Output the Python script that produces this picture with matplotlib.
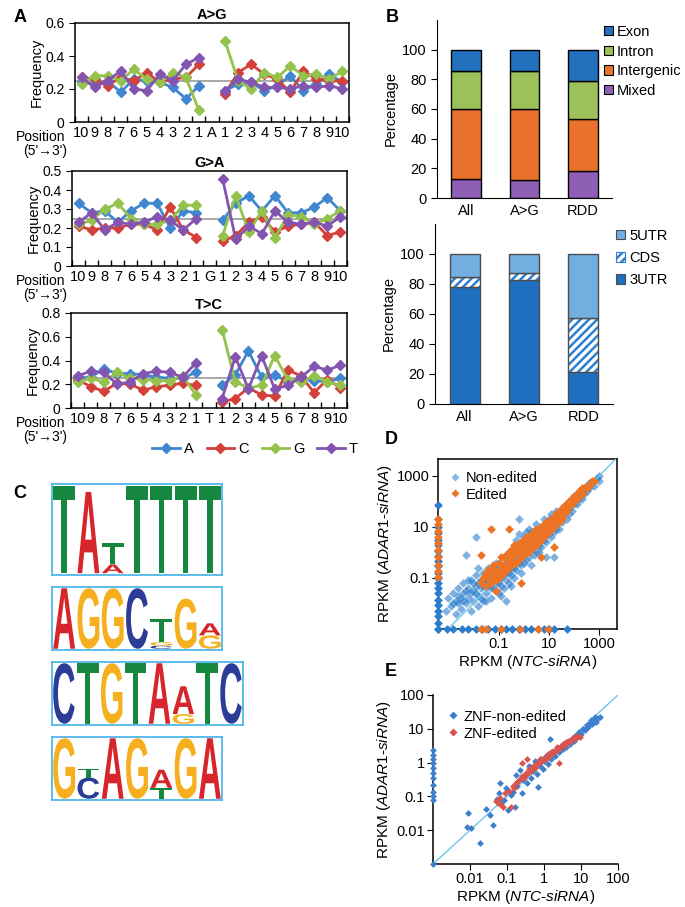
import numpy as np
import matplotlib
matplotlib.use('Agg')
import matplotlib.pyplot as plt
from matplotlib.lines import Line2D
from matplotlib.patches import Patch, PathPatch
from matplotlib.textpath import TextPath
from matplotlib.font_manager import FontProperties
from matplotlib.transforms import Affine2D

plt.rcParams['font.family'] = ['Liberation Sans', 'DejaVu Sans']
plt.rcParams['mathtext.fontset'] = 'custom'
plt.rcParams['mathtext.rm'] = 'Liberation Sans'
plt.rcParams['mathtext.it'] = 'Liberation Sans:italic'
plt.rcParams['font.size'] = 10
plt.rcParams['hatch.linewidth'] = 1.8

# ---------------- data: panel A (frequency around the edited base) ----------------
bases = ['A', 'C', 'G', 'T']
pos_left = ['10', '9', '8', '7', '6', '5', '4', '3', '2', '1']
pos_right = ['1', '2', '3', '4', '5', '6', '7', '8', '9', '10']

ag_A = [0.24, 0.23, 0.25, 0.18, 0.26, 0.25, 0.24, 0.21, 0.14, 0.22, 0.19, 0.23, 0.24, 0.19, 0.22, 0.28, 0.19, 0.23, 0.29, 0.24]
ag_C = [0.27, 0.26, 0.22, 0.27, 0.25, 0.30, 0.24, 0.26, 0.27, 0.35, 0.17, 0.30, 0.35, 0.29, 0.26, 0.18, 0.31, 0.26, 0.25, 0.25]
ag_G = [0.23, 0.28, 0.28, 0.25, 0.32, 0.26, 0.24, 0.30, 0.27, 0.07, 0.49, 0.25, 0.20, 0.30, 0.27, 0.34, 0.28, 0.29, 0.26, 0.31]
ag_T = [0.27, 0.21, 0.25, 0.31, 0.20, 0.19, 0.29, 0.25, 0.35, 0.39, 0.19, 0.26, 0.24, 0.21, 0.21, 0.20, 0.22, 0.21, 0.22, 0.20]

ga_A = [0.33, 0.28, 0.29, 0.23, 0.29, 0.33, 0.33, 0.20, 0.29, 0.28, 0.24, 0.33, 0.37, 0.29, 0.37, 0.28, 0.28, 0.31, 0.36, 0.29]
ga_C = [0.21, 0.19, 0.20, 0.20, 0.22, 0.22, 0.19, 0.31, 0.19, 0.15, 0.13, 0.16, 0.23, 0.26, 0.18, 0.21, 0.22, 0.23, 0.16, 0.18]
ga_G = [0.22, 0.24, 0.30, 0.33, 0.25, 0.22, 0.22, 0.24, 0.32, 0.32, 0.16, 0.37, 0.18, 0.29, 0.15, 0.27, 0.26, 0.22, 0.25, 0.29]
ga_T = [0.23, 0.28, 0.19, 0.23, 0.22, 0.23, 0.26, 0.24, 0.19, 0.25, 0.46, 0.14, 0.21, 0.17, 0.29, 0.23, 0.22, 0.23, 0.21, 0.26]

tc_A = [0.25, 0.26, 0.33, 0.29, 0.29, 0.28, 0.26, 0.25, 0.25, 0.30, 0.19, 0.28, 0.48, 0.26, 0.28, 0.22, 0.25, 0.23, 0.22, 0.25]
tc_C = [0.24, 0.18, 0.14, 0.21, 0.20, 0.15, 0.18, 0.19, 0.21, 0.19, 0.05, 0.08, 0.17, 0.11, 0.10, 0.32, 0.27, 0.13, 0.24, 0.17]
tc_G = [0.22, 0.25, 0.22, 0.30, 0.25, 0.24, 0.23, 0.23, 0.27, 0.11, 0.66, 0.22, 0.17, 0.19, 0.44, 0.24, 0.22, 0.27, 0.22, 0.19]
tc_T = [0.27, 0.31, 0.30, 0.20, 0.22, 0.29, 0.31, 0.30, 0.26, 0.38, 0.08, 0.43, 0.16, 0.44, 0.16, 0.19, 0.26, 0.35, 0.32, 0.36]

# ---------------- data: panel B (stacked percentages) ----------------
groups = ['All', 'A>G', 'RDD']
region_mixed = [12.6, 12.2, 18.3]
region_intergenic = [47.2, 48.1, 35.0]
region_intron = [25.5, 25.5, 25.5]
region_exon = [14.7, 14.2, 21.2]

gene_3utr = [77.8, 82.9, 21.6]
gene_cds = [7.1, 4.7, 35.5]
gene_5utr = [15.1, 12.4, 42.9]

# ---------------- data: panel C (motif logos, columns bottom->top: letter, height) ----------------
logo_1 = [[('T', 1.0)], [('A', 0.93)], [('A', 0.1), ('T', 0.24)], [('T', 1.0)],
          [('T', 1.0)], [('T', 1.0)], [('T', 1.0)]]
logo_2 = [[('A', 1.0)], [('G', 1.0)], [('G', 1.0)], [('C', 1.0)],
          [('C', 0.05), ('G', 0.06), ('T', 0.39)], [('G', 0.83)], [('G', 0.22), ('A', 0.2)]]
logo_3 = [[('C', 1.0)], [('T', 1.0)], [('G', 1.0)], [('T', 1.0)], [('A', 1.0)],
          [('G', 0.16), ('A', 0.46)], [('T', 1.0)], [('C', 1.0)]]
logo_4 = [[('G', 1.0)], [('C', 0.35), ('T', 0.15)], [('A', 1.0)], [('G', 1.0)],
          [('T', 0.18), ('A', 0.3)], [('G', 1.0)], [('A', 1.0)]]

# ---------------- data: panel D (log10 RPKM, NTC vs ADAR1 siRNA) ----------------
d_nonedited_log = [
    (-3.1, -2.3), (-3.0, -1.8), (-2.9, -2.1), (-2.8, -1.6), (-2.7, -1.9), (-2.7, -2.4), (-2.6, -1.4),
    (-2.5, -1.8), (-2.5, -2.2), (-2.4, -1.2), (-2.4, -1.6), (-2.3, -2.0), (-2.3, -0.1), (-2.2, -1.4),
    (-2.2, -1.8), (-2.1, -1.1), (-2.1, -2.3), (-2.0, -1.5), (-2.0, -1.9), (-1.9, -0.9), (-1.9, 0.6),
    (-1.9, -1.3), (-1.8, -1.7), (-1.8, -2.1), (-1.7, -1.1), (-1.7, -1.4), (-1.6, -0.8), (-1.6, -1.9),
    (-1.5, -1.2), (-1.5, -1.6), (-1.4, -0.6), (-1.4, -1.0), (-1.3, -1.4), (-1.3, -1.8), (-1.2, -0.8),
    (-1.2, -1.1), (-1.1, -0.4), (-1.1, -1.5), (-1.0, -0.9), (-1.0, -1.2), (-0.9, -0.5), (-0.9, -1.7),
    (-0.8, -0.8), (-0.8, -0.2), (-0.7, -1.1), (-0.7, -1.9), (-0.6, -0.5), (-0.6, 0.0), (-0.5, -0.9),
    (-0.5, -0.3), (-0.4, 0.2), (-0.4, -0.6), (-0.3, -0.1), (-0.3, 0.5), (-0.2, 1.3), (-0.2, -0.4),
    (-0.1, 0.3), (-0.1, -0.8), (0.0, 0.0), (0.0, 0.6), (0.1, -0.3), (0.1, 0.4), (0.2, 0.9), (0.2, 0.1),
    (0.3, -0.5), (0.3, 0.5), (0.4, 0.2), (0.4, 0.8), (0.5, 1.1), (0.5, 0.0), (0.6, 0.6), (0.6, 0.3),
    (0.7, 1.0), (0.7, 0.2), (0.8, 0.8), (0.8, 1.3), (0.9, 0.4), (0.9, -0.2), (1.0, 1.0), (1.0, 0.7),
    (1.1, 1.5), (1.1, 0.6), (1.2, 1.2), (1.2, -0.2), (1.3, 0.9), (1.3, 1.6), (1.4, 1.3), (1.4, 0.9),
    (1.5, 1.7), (1.5, 1.2), (1.6, 1.5), (1.7, 1.9), (1.7, 1.3), (1.8, 1.7), (1.9, 2.1), (1.9, 1.6),
    (2.0, 1.9), (2.1, 2.3), (2.1, 1.9), (2.2, 2.1), (2.3, 2.4), (2.3, 2.1), (2.4, 2.3), (2.5, 2.6),
    (2.5, 2.4), (2.6, 2.5), (2.7, 2.7), (2.8, 2.8), (2.8, 2.6), (2.9, 2.9), (3.0, 3.0), (3.0, 2.8),
    (-2.8, -2.0), (-2.6, -2.0), (-2.6, -1.7), (-2.4, -1.9), (-2.3, -1.5), (-2.2, -1.1), (-2.1, -1.6),
    (-2.0, -1.2), (-1.9, -1.6), (-1.8, -1.2), (-1.8, -0.6), (-1.7, -1.8), (-1.6, -1.3), (-1.6, -1.1),
    (-1.5, -1.9), (-1.5, -1.0), (-1.4, -1.3), (-1.3, -1.1), (-1.3, -0.7), (-1.2, -1.4), (-1.1, -1.2),
    (-1.1, -0.7), (-1.0, -0.6), (-1.0, -1.6), (-0.9, -1.0), (-0.9, -1.3), (-0.8, -1.4), (-0.8, -0.5),
    (-0.7, -0.8), (-0.7, -0.3), (-0.6, -1.2), (-0.6, -0.8), (-0.5, -1.3), (-0.5, -0.6), (-0.4, -0.3),
    (-0.4, -1.0), (-0.3, -0.7), (-0.3, 0.1), (-0.2, 0.0), (-0.2, 0.7), (-0.1, -0.5), (-0.1, 0.0),
    (0.0, 0.3), (0.0, -0.4), (0.1, 0.1), (0.1, 0.8), (0.2, -0.2), (0.2, 0.5), (0.3, 0.2), (0.3, 0.8),
    (0.4, 0.5), (0.4, -0.1), (0.5, 0.6), (0.6, 0.9), (0.6, 0.0), (0.7, 0.7), (0.8, 0.5), (0.9, 0.9),
    (1.0, 1.3), (1.1, 1.0), (1.2, 0.8), (1.3, 1.3), (1.6, 1.8), (1.8, 1.5), (2.0, 2.2), (2.2, 2.3),
    (2.4, 2.5), (2.6, 2.7),
]
d_edited_log = [
    (-1.7, -1.2), (-1.6, -1.0), (-1.5, -1.3), (-1.5, -0.8), (-1.4, -1.0), (-1.3, -0.7), (-1.3, -1.2),
    (-1.2, -0.9), (-1.2, -0.5), (-1.1, -0.8), (-1.0, -0.4), (-1.0, -1.0), (-0.9, -0.6), (-0.9, -0.2),
    (-0.8, -0.5), (-0.7, -0.1), (-0.7, -0.7), (-0.6, -0.3), (-0.5, 0.1), (-0.5, -0.5), (-0.4, -0.1),
    (-0.3, 0.3), (-0.3, -0.4), (-0.2, 0.0), (-0.1, 0.4), (-0.1, -0.2), (0.0, 0.2), (0.1, 0.6), (0.1, 0.0),
    (0.2, 0.3), (0.3, 0.7), (0.3, 0.2), (0.4, 0.5), (0.5, 0.9), (0.5, 0.3), (0.6, 0.6), (0.7, 1.0),
    (0.7, 0.5), (0.8, 0.8), (0.9, 1.2), (0.9, 0.7), (1.0, 1.0), (1.1, 1.3), (1.1, 0.9), (1.2, 1.2),
    (1.3, 1.5), (1.3, 1.1), (1.4, 1.4), (1.5, 1.7), (1.5, 1.3), (1.6, 1.6), (1.7, 1.9), (1.7, 1.6),
    (1.8, 1.8), (1.9, 2.1), (2.0, 2.0), (2.1, 2.2), (2.2, 2.4), (2.3, 2.3), (2.4, 2.5), (2.5, 2.6),
    (2.6, 2.6), (2.7, 2.8), (2.8, 2.8), (-1.3, 0.9), (-1.7, -0.1), (-0.1, -1.2), (-1.1, -1.5),
    (0.7, -0.2), (-0.6, 0.9), (1.2, 0.2),
    (-1.4, -0.7), (-1.2, -0.7), (-1.1, -1.1), (-1.0, -0.7), (-0.9, -0.9), (-0.8, -0.2), (-0.8, -0.8),
    (-0.7, -0.4), (-0.6, -0.6), (-0.6, 0.0), (-0.5, -0.2), (-0.4, 0.3), (-0.4, -0.4), (-0.3, 0.0),
    (-0.2, 0.3), (-0.2, -0.3), (-0.1, 0.1), (0.0, 0.5), (0.0, -0.1), (0.1, 0.3), (0.2, 0.6), (0.2, 0.0),
    (0.3, 0.4), (0.4, 0.8), (0.4, 0.2), (0.5, 0.6), (0.6, 0.9), (0.6, 0.4), (0.7, 0.7), (0.8, 1.1),
    (0.8, 0.6), (0.9, 0.9), (1.0, 1.2), (1.0, 0.8), (1.1, 1.1), (1.2, 1.4), (1.2, 1.0), (1.3, 1.3),
    (1.4, 1.6), (1.4, 1.2), (1.5, 1.5), (1.6, 1.8), (1.6, 1.5), (1.7, 1.7), (1.8, 2.0), (1.9, 1.9),
    (2.0, 2.2), (2.1, 2.1), (2.2, 2.2), (2.3, 2.5), (2.5, 2.5),
]
# genes with RPKM = 0 in one condition (drawn on the axis)
d_nonedited_x0_logy = [-3.0, -2.75, -2.5, -2.3, -2.05, -1.85, -1.6, -1.4, -1.2, -1.0, -0.8, -0.55,
                       -0.35, -0.15, 0.05, 0.3, 0.5, 0.75, 1.0, 1.3, 1.85]
d_nonedited_y0_logx = [-3.4, -3.05, -2.8, -2.45, -2.2, -1.9, -1.65, -1.4, -1.15, -0.9, -0.7, -0.45,
                       -0.2, 0.05, 0.3, 0.55, 0.8, 1.0, 1.2, 1.7]
d_edited_x0_logy = [1.3, 1.1, 0.85, 0.6, 0.35, 0.1, -0.2, -0.5, -0.75, -0.95]
d_edited_y0_logx = [-1.7, -1.5, -0.9, -0.15, 0.55, 0.95]

# ---------------- data: panel E (ZNF genes, log10 RPKM) ----------------
e_nonedited_log = [
    (-2.07, -1.9), (-2.05, -1.5), (-1.96, -1.94), (-1.74, -2.37), (-1.58, -1.38), (-1.47, -1.55),
    (-1.38, -1.84), (-1.27, -1.09), (-1.22, -0.89), (-1.2, -0.61), (-1.15, -1.2), (-1.09, -1.11),
    (-1.02, -0.75), (-0.97, -1.4), (-0.9, -0.95), (-0.84, -0.86), (-0.79, -1.3), (-0.77, -0.37),
    (-0.72, -0.7), (-0.66, -0.22), (-0.6, -0.9), (-0.57, -0.51), (-0.5, -0.35), (-0.45, -0.6),
    (-0.4, -0.1), (-0.35, -0.45), (-0.3, -0.25), (-0.25, 0.05), (-0.2, -0.35), (-0.16, -0.71),
    (-0.12, -0.1), (-0.08, 0.12), (-0.03, -0.2), (0.0, 0.05), (0.05, 0.2), (0.1, -0.05), (0.14, 0.25),
    (0.17, 0.7), (0.2, 0.1), (0.25, 0.3), (0.3, 0.2), (0.35, 0.4), (0.4, 0.3), (0.45, 0.5), (0.5, 0.4),
    (0.55, 0.55), (0.6, 0.45), (0.65, 0.62), (0.7, 0.55), (0.75, 0.7), (0.8, 0.65), (0.85, 0.8),
    (0.9, 0.75), (0.95, 0.9), (1.0, 0.85), (1.05, 0.98), (1.1, 0.95), (1.15, 1.1), (1.2, 1.05),
    (1.25, 1.18), (1.3, 1.15), (1.35, 1.25), (1.4, 1.2), (1.45, 1.33), (1.5, 1.35), (1.38, 1.35),
    (1.28, 1.25), (1.12, 1.0), (0.92, 0.85), (0.72, 0.62),
]
e_edited_log = [
    (-1.29, -1.15), (-1.25, -1.2), (-1.2, -1.05), (-1.15, -1.25), (-1.1, -1.3), (-1.05, -0.9),
    (-0.95, -0.85), (-0.9, -1.3), (-0.85, -0.7), (-0.8, -0.75), (-0.75, -0.6), (-0.7, -0.55),
    (-0.65, -0.5), (-0.6, -0.4), (-0.55, -0.45), (-0.5, -0.3), (-0.45, -0.35), (-0.4, -0.2),
    (-0.35, -0.25), (-0.3, -0.1), (-0.25, -0.15), (-0.2, 0.0), (-0.15, -0.05), (-0.1, 0.1),
    (-0.05, 0.05), (0.0, 0.15), (0.05, 0.1), (0.1, 0.25), (0.15, 0.2), (0.2, 0.3), (0.25, 0.35),
    (0.3, 0.3), (0.35, 0.45), (0.4, 0.4), (0.45, 0.5), (0.5, 0.55), (0.55, 0.5), (0.6, 0.6),
    (0.65, 0.65), (0.7, 0.6), (0.75, 0.7), (0.8, 0.75), (0.85, 0.7), (0.9, 0.8), (0.96, 0.77),
    (0.4, 0.0), (-0.45, 0.1), (-0.6, 0.0),
]
e_nonedited_x0_logy = [0.37, 0.22, 0.1, -0.02, -0.17, -0.32, -0.47, -0.66, -0.86, -1.0, -1.1, -3.0]

# ---------------- styles ----------------
base_colors = {'A': '#3f88d0', 'C': '#d4403a', 'G': '#95c24d', 'T': '#8455b0'}
logo_colors = {'A': '#d6262b', 'C': '#2b3d96', 'G': '#f6b01f', 'T': '#15873f'}

W, H = 685, 907
fig = plt.figure(figsize=(W / 100, H / 100), dpi=100)


def add_ax(x0, y0, x1, y1):
    return fig.add_axes([x0 / W, 1 - y1 / H, (x1 - x0) / W, (y1 - y0) / H])


def fxy(x, y):
    return x / W, 1 - y / H


# ---------------- panel A ----------------
def freq_panel(box, title, center, series, ymax, ystep, pos_y):
    ax = add_ax(*box)
    left = np.arange(1, 11)
    right = np.arange(12, 22)
    ax.axhline(0.25, color='#9a9a9a', lw=1.2, zorder=1)
    for b, vals in zip(bases, series):
        for xs, ys in ((left, vals[:10]), (right, vals[10:])):
            ax.plot(xs, ys, color=base_colors[b], lw=2, marker='D', ms=5, zorder=2)
    ax.set_xlim(0.5, 21.5)
    ax.set_ylim(0, ymax)
    ax.set_xticks(np.arange(1, 22))
    ax.set_xticklabels(pos_left + [center] + pos_right)
    ax.set_xticks(np.arange(0.5, 22, 1), minor=True)
    ax.tick_params(axis='x', which='major', length=0, pad=3, labelsize=10.5)
    ax.tick_params(axis='x', which='minor', direction='in', length=4, width=1)
    yt = np.arange(0, ymax + 1e-9, ystep)
    ax.set_yticks(yt)
    ax.set_yticklabels([f'{round(v, 1):g}' for v in yt])
    ax.tick_params(axis='y', direction='out', length=4, labelsize=10)
    ax.set_ylabel('Frequency', fontsize=10.5, labelpad=1)
    ax.set_title(title, fontweight='bold', fontsize=10.5, pad=3)
    for s in ax.spines.values():
        s.set_linewidth(1.1)
    fig.text(*fxy(41, pos_y + 3), 'Position', ha='center', va='center', fontsize=10)
    fig.text(*fxy(45, pos_y + 17), "(5'\u21923')", ha='center', va='center', fontsize=10)
    return ax


freq_panel((75, 23, 349, 122), 'A>G', 'A', [ag_A, ag_C, ag_G, ag_T], 0.6, 0.2, 134)
freq_panel((72, 171, 347, 266), 'G>A', 'G', [ga_A, ga_C, ga_G, ga_T], 0.5, 0.1, 278)
freq_panel((71, 313, 347, 408), 'T>C', 'T', [tc_A, tc_C, tc_G, tc_T], 0.8, 0.2, 420)

a_handles = [Line2D([], [], color=base_colors[b], lw=2, marker='D', ms=5) for b in bases]
fig.legend(a_handles, bases, loc='center', bbox_to_anchor=fxy(255, 449), ncol=4, frameon=False,
           handlelength=1.9, handletextpad=0.25, columnspacing=0.9, fontsize=10.5)

# ---------------- panel B ----------------
xb = np.arange(len(groups))
ax_b1 = add_ax(437, 20, 612, 198)
bottom = np.zeros(3)
b1_layers = [('Mixed', region_mixed, '#8e5fb5'), ('Intergenic', region_intergenic, '#e8722c'),
             ('Intron', region_intron, '#9cc05a'), ('Exon', region_exon, '#2370bd')]
for name, vals, c in b1_layers:
    ax_b1.bar(xb, vals, bottom=bottom, width=0.51, color=c, edgecolor='black', lw=1)
    bottom += np.array(vals)
ax_b1.set_xlim(-0.5, 2.5)
ax_b1.set_ylim(0, 120)
ax_b1.set_yticks(np.arange(0, 101, 20))
ax_b1.set_xticks(xb)
ax_b1.set_xticklabels(groups)
ax_b1.tick_params(axis='x', length=0, pad=4, labelsize=10.5)
ax_b1.tick_params(axis='y', length=4, labelsize=10.5)
ax_b1.set_ylabel('Percentage', fontsize=10.5, labelpad=3)
ax_b1.spines[['top', 'right']].set_visible(False)
h1 = [Patch(facecolor=c, edgecolor='black', lw=0.8) for _, _, c in b1_layers][::-1]
fig.legend(h1, [n for n, _, _ in b1_layers][::-1], loc='upper left', bbox_to_anchor=fxy(604, 25),
           frameon=False, handlelength=0.6, handleheight=0.6, handletextpad=0.3, labelspacing=0.38,
           borderpad=0, borderaxespad=0, fontsize=10.5)

ax_b2 = add_ax(435, 224, 613, 404)
ax_b2.bar(xb, gene_3utr, width=0.51, color='#1f6fc1', edgecolor='#4d4d4d', lw=1)
b_cds = np.array(gene_3utr)
ax_b2.bar(xb, gene_cds, bottom=b_cds, width=0.51, color='white', edgecolor='#2f7fd0', hatch='////', lw=0)
ax_b2.bar(xb, gene_cds, bottom=b_cds, width=0.51, fill=False, edgecolor='#4d4d4d', lw=1)
b_5 = b_cds + np.array(gene_cds)
ax_b2.bar(xb, gene_5utr, bottom=b_5, width=0.51, color='#72aee0', edgecolor='#4d4d4d', lw=1)
ax_b2.set_xlim(-0.5, 2.5)
ax_b2.set_ylim(0, 120)
ax_b2.set_yticks(np.arange(0, 101, 20))
ax_b2.set_xticks(xb)
ax_b2.set_xticklabels(groups)
ax_b2.tick_params(axis='x', length=0, pad=4, labelsize=10.5)
ax_b2.tick_params(axis='y', length=4, labelsize=10.5)
ax_b2.set_ylabel('Percentage', fontsize=10.5, labelpad=3)
ax_b2.spines[['top', 'right']].set_visible(False)
h2 = [Patch(facecolor='#72aee0', edgecolor='#4d4d4d', lw=0.8),
      Patch(facecolor='white', edgecolor='#2f7fd0', hatch='////', lw=0.8),
      Patch(facecolor='#1f6fc1', edgecolor='#4d4d4d', lw=0.8)]
fig.legend(h2, ['5UTR', 'CDS', '3UTR'], loc='upper left', bbox_to_anchor=fxy(616, 229),
           frameon=False, handlelength=0.6, handleheight=0.6, handletextpad=0.3, labelspacing=0.55,
           borderpad=0, borderaxespad=0, fontsize=10.5)

# ---------------- panel C ----------------
fp_logo = FontProperties(family='Liberation Sans', weight='bold')


def draw_logo(box, columns):
    ax = add_ax(*box)
    n = len(columns)
    ax.set_xlim(0, n)
    ax.set_ylim(0, 1)
    for i, col in enumerate(columns):
        y = 0.02
        for letter, h in col:
            tp = TextPath((0, 0), letter, size=1, prop=fp_logo)
            bb = tp.get_extents()
            hh = h * 0.96
            tr = Affine2D().translate(-bb.x0, -bb.y0).scale(0.9 / bb.width, hh / bb.height).translate(i + 0.05, y)
            ax.add_patch(PathPatch(tr.transform_path(tp), facecolor=logo_colors[letter], lw=0))
            y += hh
    ax.set_xticks([])
    ax.set_yticks([])
    for s in ax.spines.values():
        s.set_color('#4fb6ea')
        s.set_linewidth(1.3)


draw_logo((52, 484, 222, 575), logo_1)
draw_logo((52, 587, 222, 650), logo_2)
draw_logo((52, 662, 243, 725), logo_3)
draw_logo((52, 737, 222, 800), logo_4)

# ---------------- panel D ----------------
ylab = r'RPKM ($\mathit{ADAR1}$-$\mathit{siRNA}$)'
xlab = r'RPKM ($\mathit{NTC}$-$\mathit{siRNA}$)'

ax_d = add_ax(438, 459, 617, 629)
ax_d.set_xscale('log')
ax_d.set_yscale('log')
ax_d.set_xlim(10 ** -3.4, 10 ** 3.7)
ax_d.set_ylim(10 ** -3.0, 10 ** 3.65)
xmin_d, ymin_d = ax_d.get_xlim()[0], ax_d.get_ylim()[0]
ax_d.plot([1e-3, 10 ** 3.65], [1e-3, 10 ** 3.65], color='#6ec6ea', lw=1, zorder=3)

ne = 10 ** np.array(d_nonedited_log)
ed = 10 ** np.array(d_edited_log)
blue_d = '#2a7dcc'
ms_d = 20
ax_d.scatter(ne[:, 0], ne[:, 1], marker='D', s=ms_d, color=blue_d, alpha=0.6, lw=0, zorder=2)
ax_d.scatter(np.full(len(d_nonedited_x0_logy), xmin_d), 10 ** np.array(d_nonedited_x0_logy),
             marker='D', s=ms_d, color=blue_d, lw=0, clip_on=False, zorder=4)
ax_d.scatter(10 ** np.array(d_nonedited_y0_logx), np.full(len(d_nonedited_y0_logx), ymin_d),
             marker='D', s=ms_d, color=blue_d, lw=0, clip_on=False, zorder=4)
orange_d = '#ec7424'
ax_d.scatter(ed[:, 0], ed[:, 1], marker='D', s=ms_d, color=orange_d, lw=0, zorder=3)
ax_d.scatter(np.full(len(d_edited_x0_logy), xmin_d), 10 ** np.array(d_edited_x0_logy),
             marker='D', s=ms_d, color=orange_d, lw=0, clip_on=False, zorder=5)
ax_d.scatter(10 ** np.array(d_edited_y0_logx), np.full(len(d_edited_y0_logx), ymin_d),
             marker='D', s=ms_d, color=orange_d, lw=0, clip_on=False, zorder=5)
ax_d.set_xticks([0.1, 10, 1000])
ax_d.set_xticklabels(['0.1', '10', '1000'])
ax_d.set_yticks([0.1, 10, 1000])
ax_d.set_yticklabels(['0.1', '10', '1000'])
ax_d.minorticks_off()
ax_d.tick_params(length=4, labelsize=10.5, pad=2)
ax_d.set_ylabel(ylab, fontsize=11, labelpad=2)
ax_d.set_xlabel(xlab, fontsize=11, labelpad=1)
for s in ax_d.spines.values():
    s.set_linewidth(1.1)
hd = [Line2D([], [], ls='none', marker='D', ms=4, color='#80b9e8', mec='none'),
      Line2D([], [], ls='none', marker='D', ms=4, color=orange_d, mec='none')]
ax_d.legend(hd, ['Non-edited', 'Edited'], loc='upper left', frameon=False, handlelength=0.8,
            handletextpad=0.3, labelspacing=0.2, borderaxespad=0.4, fontsize=10.5)

# ---------------- panel E ----------------
ax_e = add_ax(433, 695, 618, 864)
ax_e.set_xscale('log')
ax_e.set_yscale('log')
ax_e.set_xlim(1e-3, 100)
ax_e.set_ylim(1e-3, 100)
ax_e.plot([1e-3, 100], [1e-3, 100], color='#6ec6ea', lw=1, zorder=1)
blue_e = '#3d7fcc'
red_e = '#d9534f'
en = 10 ** np.array(e_nonedited_log)
ee = 10 ** np.array(e_edited_log)
ax_e.scatter(en[:, 0], en[:, 1], marker='D', s=12, color=blue_e, lw=0, zorder=2)
ax_e.scatter(np.full(len(e_nonedited_x0_logy), ax_e.get_xlim()[0]), 10 ** np.array(e_nonedited_x0_logy),
             marker='D', s=12, color=blue_e, lw=0, clip_on=False, zorder=4)
ax_e.scatter(ee[:, 0], ee[:, 1], marker='D', s=12, color=red_e, lw=0, zorder=3)
ticks_e = [0.01, 0.1, 1, 10, 100]
ax_e.set_xticks(ticks_e)
ax_e.set_xticklabels([f'{t:g}' for t in ticks_e])
ax_e.set_yticks(ticks_e)
ax_e.set_yticklabels([f'{t:g}' for t in ticks_e])
ax_e.minorticks_off()
ax_e.tick_params(length=4, labelsize=10.5, pad=2)
ax_e.spines[['top', 'right']].set_visible(False)
for s in ('left', 'bottom'):
    ax_e.spines[s].set_linewidth(1.1)
ax_e.set_ylabel(ylab, fontsize=11, labelpad=2)
ax_e.set_xlabel(xlab, fontsize=11, labelpad=1)
he = [Line2D([], [], ls='none', marker='D', ms=4, color=blue_e, mec='none'),
      Line2D([], [], ls='none', marker='D', ms=4, color=red_e, mec='none')]
ax_e.legend(he, ['ZNF-non-edited', 'ZNF-edited'], loc='upper left', frameon=False, handlelength=0.8,
            handletextpad=0.3, labelspacing=0.2, borderaxespad=0.6, fontsize=10.5)

# ---------------- panel letters ----------------
for letter, (x, y) in zip('ABCDE', [(20, 17), (392, 17), (20, 494), (391, 440), (391, 671)]):
    fig.text(*fxy(x, y), letter, fontsize=13, fontweight='bold', ha='center', va='center')

fig.savefig('out.png', dpi=100)
